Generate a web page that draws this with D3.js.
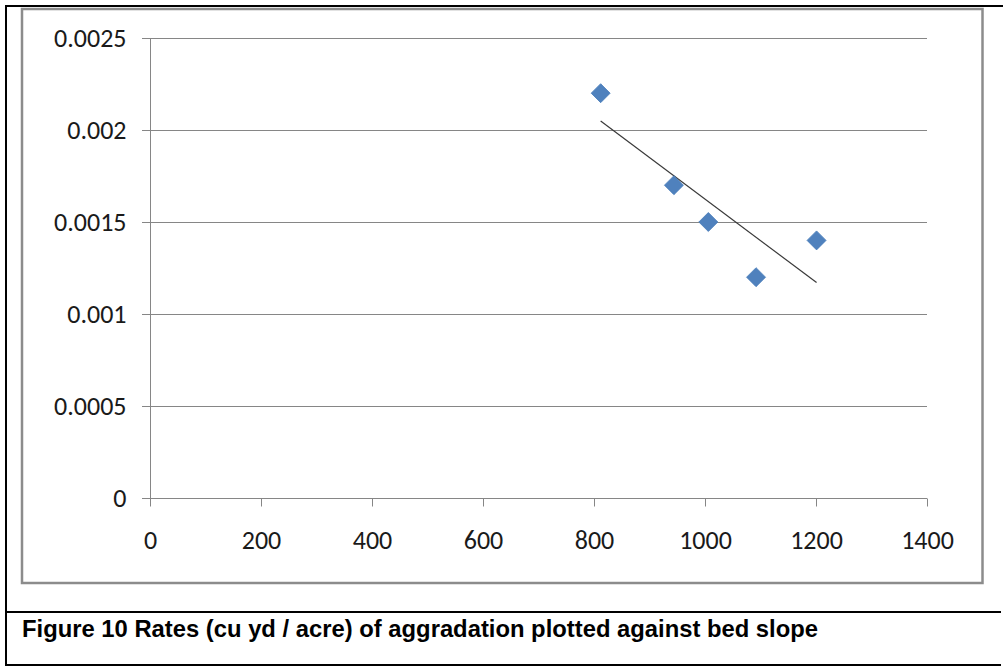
<!DOCTYPE html>
<html>
<head>
<meta charset="utf-8">
<script src="https://cdn.jsdelivr.net/npm/d3@7"></script>
<style>
  html, body { margin: 0; padding: 0; background: #fff; }
  svg { display: block; }
</style>
</head>
<body>
<svg id="chart" width="1003" height="667"></svg>
<script>
// ---- data ----
const xValues = [812, 944, 1006, 1092, 1201];
const yValues = [0.0022, 0.0017, 0.0015, 0.0012, 0.0014];
const xTicks = [0, 200, 400, 600, 800, 1000, 1200, 1400];
const yTicks = [0, 0.0005, 0.001, 0.0015, 0.002, 0.0025];
const yTickLabels = ["0", "0.0005", "0.001", "0.0015", "0.002", "0.0025"];
const caption = "Figure 10 Rates (cu yd / acre) of aggradation plotted against bed slope";

const svg = d3.select("#chart");

// ---- document frame ----
const frame = svg.append("g").attr("stroke", "#000").attr("stroke-width", 2);
frame.append("line").attr("x1", 6).attr("x2", 1003).attr("y1", 6).attr("y2", 6);
frame.append("line").attr("x1", 6).attr("x2", 6).attr("y1", 5).attr("y2", 666);
frame.append("line").attr("x1", 5).attr("x2", 1001).attr("y1", 612).attr("y2", 612);
frame.append("line").attr("x1", 5).attr("x2", 1001).attr("y1", 665).attr("y2", 665);

// chart area border
svg.append("rect")
  .attr("x", 22).attr("y", 9).attr("width", 960.5).attr("height", 574)
  .attr("fill", "none").attr("stroke", "#8c8c8c").attr("stroke-width", 2.5);

// ---- scales ----
const x = d3.scaleLinear().domain([0, 1400]).range([150, 927]);
const y = d3.scaleLinear().domain([0, 0.0025]).range([498, 38]);

const font = "Carlito, Calibri, Lato, sans-serif";
const fs = 26;

// gridlines
const grid = svg.append("g");
grid.selectAll("line").data(yTicks).join("line")
  .attr("x1", 142).attr("x2", x(1400))
  .attr("y1", d => Math.round(y(d)) + 0.5).attr("y2", d => Math.round(y(d)) + 0.5)
  .attr("stroke", "#868686").attr("stroke-width", 1);

// y axis
const yAxis = svg.append("g").attr("transform", `translate(${x(0) + 0.5},0)`)
  .call(d3.axisLeft(y).tickValues(yTicks).tickFormat((d, i) => yTickLabels[i]).tickSize(8).tickPadding(16));
yAxis.select(".domain").attr("stroke", "#868686").attr("d", `M0,${y(0.0025)}V${y(0) + 8}`);
yAxis.selectAll(".tick line").attr("stroke", "#868686");
yAxis.selectAll(".tick text")
  .attr("font-family", font).attr("font-size", fs).attr("fill", "#1a1a1a")
  .attr("dy", "0.33em");

// x axis
const xAxis = svg.append("g").attr("transform", `translate(0,${y(0) + 0.5})`)
  .call(d3.axisBottom(x).tickValues(xTicks).tickFormat(d3.format("d")).tickSize(8).tickPadding(24));
xAxis.select(".domain").attr("stroke", "#868686").attr("d", `M${x(0)},0H${x(1400)}`);
xAxis.selectAll(".tick line").attr("stroke", "#868686");
xAxis.selectAll(".tick text")
  .attr("font-family", font).attr("font-size", fs).attr("fill", "#1a1a1a");

// ---- trendline (least squares fit from data) ----
const mx = d3.mean(xValues), my = d3.mean(yValues);
let sxy = 0, sxx = 0;
xValues.forEach((xv, i) => { sxy += (xv - mx) * (yValues[i] - my); sxx += (xv - mx) ** 2; });
const slope = sxy / sxx, intercept = my - slope * mx;
const xMin = d3.min(xValues), xMax = d3.max(xValues);
svg.append("line")
  .attr("x1", x(xMin)).attr("y1", y(intercept + slope * xMin))
  .attr("x2", x(xMax)).attr("y2", y(intercept + slope * xMax))
  .attr("stroke", "#3a3a3a").attr("stroke-width", 1.2);

// ---- markers ----
const diamond = d3.symbol().type(d3.symbolSquare).size(180);
svg.append("g").selectAll("path").data(xValues).join("path")
  .attr("d", diamond)
  .attr("transform", (d, i) => `translate(${x(d)},${y(yValues[i])}) rotate(45)`)
  .attr("fill", "#4F81BD").attr("stroke", "#4A7EBB").attr("stroke-width", 0.8);

// ---- caption ----
svg.append("text")
  .attr("x", 22).attr("y", 637)
  .attr("font-family", "Liberation Sans, Arial, sans-serif")
  .attr("font-weight", "bold").attr("font-size", 23.8).attr("fill", "#000")
  .text(caption);
</script>
</body>
</html>
